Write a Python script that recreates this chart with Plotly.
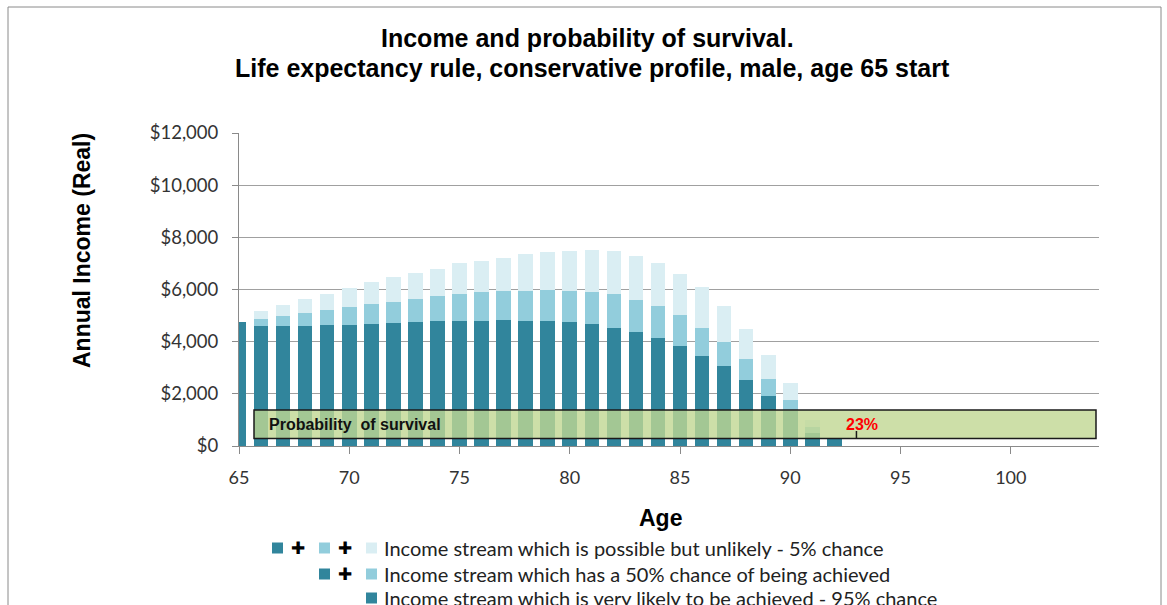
import plotly.graph_objects as go

# Age of the retiree for each year of income
ages = list(range(65, 93))

# Annual real income at three confidence levels (cumulative heights)
income_95 = [4750, 4600, 4600, 4600, 4650, 4650, 4690, 4730, 4760, 4790,
             4790, 4810, 4850, 4800, 4800, 4740, 4680, 4540, 4380, 4130,
             3830, 3450, 3050, 2530, 1900, 1350, 480, 260]
income_50 = [4750, 4880, 4980, 5090, 5220, 5340, 5440, 5540, 5650, 5740,
             5810, 5900, 5960, 5960, 6000, 5960, 5900, 5810, 5600, 5350,
             5010, 4540, 3970, 3320, 2560, 1750, 720, 260]
income_5 = [4750, 5170, 5400, 5630, 5830, 6040, 6280, 6480, 6640, 6800,
            7000, 7100, 7220, 7370, 7420, 7490, 7520, 7470, 7270, 7020,
            6610, 6100, 5350, 4480, 3480, 2400, 990, 260]

# Survival probability marker
survival_age = 93
survival_pct = 23

y_ticks = [0, 2000, 4000, 6000, 8000, 10000, 12000]
y_tick_text = ["$0", "$2,000", "$4,000", "$6,000", "$8,000", "$10,000", "$12,000"]
x_ticks = [65, 70, 75, 80, 85, 90, 95, 100]

legend_labels = [
    "Income stream which is possible but unlikely - 5% chance",
    "Income stream which has a 50% chance of being achieved",
    "Income stream which is very likely to be achieved - 95% chance",
]

DARK = "#31859c"
MID = "#92cddc"
LIGHT = "#daeef3"

W, H = 1167, 605
L, R, T, B = 239, 1099, 133, 446   # plot area in pixels


def px(x):
    return (x - L) / (R - L)


def py(y):
    return (B - y) / (B - T)


fig = go.Figure()
for vals, col in [(income_5, LIGHT), (income_50, MID), (income_95, DARK)]:
    fig.add_trace(go.Bar(x=ages, y=vals, marker=dict(color=col, line=dict(width=0)),
                         width=0.66, showlegend=False, hoverinfo="x+y"))

shapes = []
annotations = []

# Outer chart frame
shapes.append(dict(type="rect", xref="paper", yref="paper",
                   x0=px(8), x1=px(1161), y0=py(640), y1=py(7),
                   line=dict(color="#8a8a8a", width=1), fillcolor="rgba(0,0,0,0)", layer="below"))

# Probability of survival box
shapes.append(dict(type="rect", xref="paper", yref="paper",
                   x0=px(254), x1=px(1096), y0=py(438.5), y1=py(410),
                   line=dict(color="#1a1a1a", width=1.5),
                   fillcolor="rgba(192,215,146,0.8)", layer="above"))
shapes.append(dict(type="line", xref="x", yref="paper",
                   x0=survival_age, x1=survival_age, y0=py(438.5), y1=py(431),
                   line=dict(color="#1a1a1a", width=1.5)))
annotations.append(dict(xref="paper", yref="paper", x=px(267), y=py(424),
                        text="<b>Probability  of survival</b>", showarrow=False,
                        xanchor="left", yanchor="middle",
                        font=dict(family="Liberation Sans", size=16, color="#111")))
annotations.append(dict(xref="x", yref="paper", x=survival_age, y=py(424), xshift=6,
                        text=f"<b>{survival_pct}%</b>", showarrow=False,
                        xanchor="center", yanchor="middle",
                        font=dict(family="Liberation Sans", size=16, color="#ff0000")))

# Titles
annotations.append(dict(xref="paper", yref="paper", x=px(587), y=py(38),
                        text="<b>Income and probability of survival.</b>", showarrow=False,
                        xanchor="center", yanchor="middle",
                        font=dict(family="Liberation Sans", size=25, color="#000")))
annotations.append(dict(xref="paper", yref="paper", x=px(592), y=py(68),
                        text="<b>Life expectancy rule, conservative profile, male, age 65 start</b>",
                        showarrow=False, xanchor="center", yanchor="middle",
                        font=dict(family="Liberation Sans", size=25, color="#000")))
annotations.append(dict(xref="paper", yref="paper", x=px(660), y=py(518),
                        text="<b>Age</b>", showarrow=False, xanchor="center", yanchor="middle",
                        font=dict(family="Liberation Sans", size=23, color="#000")))
annotations.append(dict(xref="paper", yref="paper", x=px(82), y=py(251),
                        text="<b>Annual Income (Real)</b>", showarrow=False, textangle=-90,
                        xanchor="center", yanchor="middle",
                        font=dict(family="Liberation Sans", size=23, color="#000")))

# Legend rows: colour squares joined by plus signs
rows = [
    (548, [DARK, MID, LIGHT]),
    (574, [DARK, MID]),
    (598, [DARK]),
]
sq_x = [277.5, 324.5, 371.5]
plus_x = [298, 345]
for (yc, cols), label in zip(rows, legend_labels):
    n = len(cols)
    xs = sq_x[3 - n:]
    for xc, col in zip(xs, cols):
        shapes.append(dict(type="rect", xref="paper", yref="paper",
                           x0=px(xc - 5.5), x1=px(xc + 5.5), y0=py(yc + 5.5), y1=py(yc - 5.5),
                           line=dict(width=0), fillcolor=col))
    for xp in plus_x[3 - n:]:
        annotations.append(dict(xref="paper", yref="paper", x=px(xp), y=py(yc),
                                text="✚", showarrow=False, xanchor="center", yanchor="middle",
                                font=dict(family="DejaVu Sans", size=17, color="#000")))
    annotations.append(dict(xref="paper", yref="paper", x=px(382), y=py(yc),
                            text=label, showarrow=False, xanchor="left", yanchor="middle",
                            font=dict(family="Lato", size=20, color="#222")))

fig.update_layout(
    width=W, height=H,
    margin=dict(l=L, r=W - R, t=T, b=H - B, autoexpand=False),
    paper_bgcolor="white", plot_bgcolor="white",
    barmode="overlay", bargap=0,
    shapes=shapes, annotations=annotations,
    xaxis=dict(range=[65, 104], tickvals=x_ticks, ticks="outside", ticklen=7,
               tickcolor="#8a8a8a", showline=True, linecolor="#8a8a8a", linewidth=1,
               showgrid=False, zeroline=False, ticklabelstandoff=8,
               tickfont=dict(family="Lato", size=18, color="#333")),
    yaxis=dict(range=[0, 12000], tickvals=y_ticks, ticktext=y_tick_text,
               ticks="outside", ticklen=6, tickcolor="#8a8a8a",
               showline=True, linecolor="#8a8a8a", linewidth=1,
               showgrid=True, gridcolor="#a0a0a0", gridwidth=1, zeroline=False,
               ticklabelstandoff=10,
               tickfont=dict(family="Lato", size=18.5, color="#333")),
)

fig.write_html("out.html")
